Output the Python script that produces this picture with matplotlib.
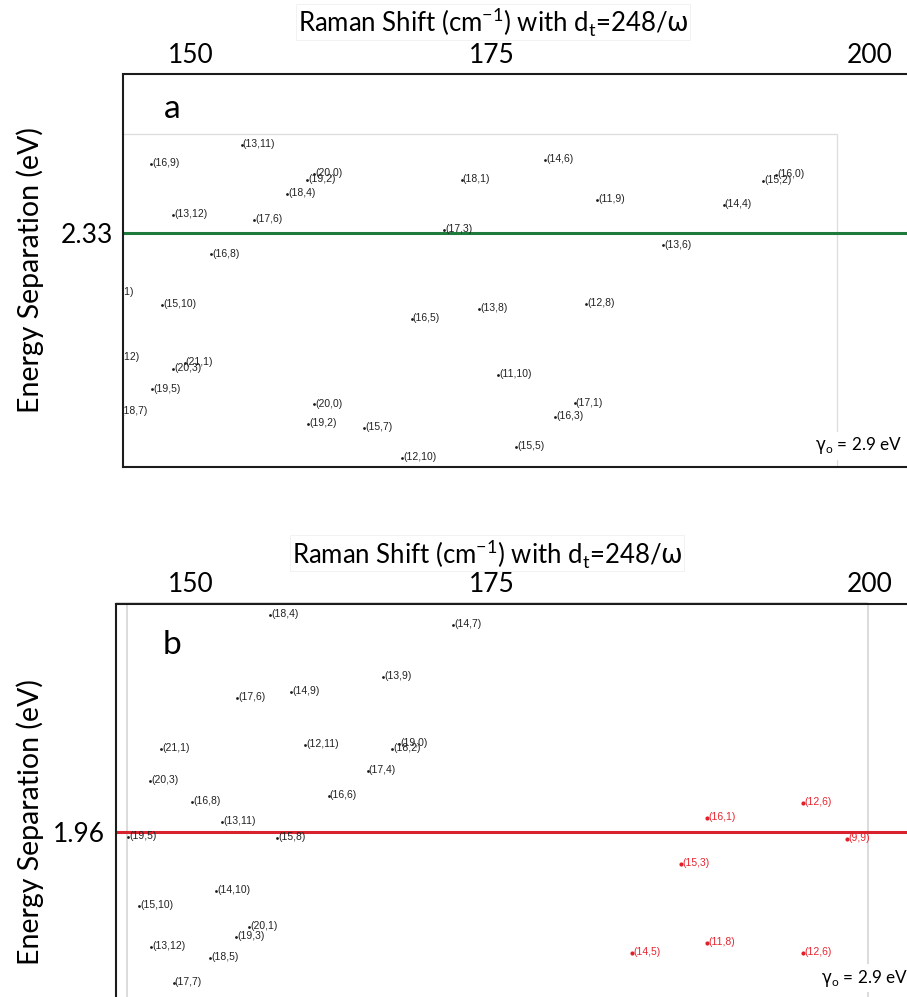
import matplotlib
matplotlib.use("Agg")
import matplotlib.pyplot as plt

plt.rcParams["mathtext.fontset"] = "dejavusans"

W, H, DPI = 907, 997, 100
OUTER_FONT = ["Lato", "DejaVu Sans"]
LABEL_FONT = ["Liberation Sans", "DejaVu Sans"]

# ---------------- data ----------------
# panel a: 2.33 eV excitation
a_names = ["(13,11)", "(16,9)", "(19,2)", "(20,0)", "(18,4)", "(13,12)", "(17,6)", "(17,3)",
           "(16,8)", "(14,6)", "(18,1)", "(11,9)", "(14,4)", "(15,2)", "(16,0)", "(13,6)",
           "(22,1)", "(15,10)", "(16,5)", "(14,12)", "(21,1)", "(20,3)", "(19,5)", "(20,0)",
           "(18,7)", "(19,2)", "(15,7)", "(12,10)", "(13,8)", "(12,8)", "(11,10)", "(17,1)",
           "(16,3)", "(15,5)"]
a_raman = [152.1, 144.3, 157.7, 158.3, 156.0, 146.2, 153.2, 169.5,
           149.5, 178.2, 171.0, 182.6, 193.5, 196.9, 198.0, 188.3,
           140.4, 145.3, 166.7, 140.4, 147.2, 146.2, 144.4, 158.3,
           141.6, 157.8, 162.6, 165.9, 172.5, 181.7, 174.1, 180.7,
           179.0, 175.7]
a_energy = [2.419, 2.400, 2.384, 2.390, 2.370, 2.349, 2.344, 2.334,
            2.309, 2.404, 2.384, 2.364, 2.359, 2.383, 2.389, 2.318,
            2.270, 2.258, 2.244, 2.205, 2.200, 2.194, 2.173, 2.158,
            2.151, 2.138, 2.134, 2.104, 2.254, 2.259, 2.188, 2.159,
            2.145, 2.115]
a_laser = 2.33

# panel b: 1.96 eV excitation
b_names = ["(18,4)", "(14,7)", "(13,9)", "(17,6)", "(14,9)", "(21,1)", "(12,11)", "(18,2)",
           "(19,0)", "(17,4)", "(20,3)", "(16,8)", "(16,6)", "(13,11)", "(19,5)", "(15,8)",
           "(14,10)", "(15,10)", "(20,1)", "(19,3)", "(13,12)", "(18,5)", "(17,7)"]
b_raman = [156.0, 171.0, 165.3, 153.3, 157.7, 147.1, 158.9, 166.0,
           166.6, 164.0, 146.2, 149.6, 160.8, 152.1, 144.4, 156.6,
           151.6, 145.3, 154.3, 153.2, 146.25, 151.1, 148.1]
b_energy = [2.177, 2.167, 2.115, 2.094, 2.100, 2.043, 2.047, 2.043,
            2.048, 2.021, 2.011, 1.990, 1.996, 1.970, 1.955, 1.954,
            1.901, 1.886, 1.865, 1.855, 1.845, 1.834, 1.809]
b_red_names = ["(12,6)", "(16,1)", "(9,9)", "(15,3)", "(11,8)", "(14,5)", "(12,6)"]
b_red_raman = [199.7, 191.8, 203.3, 189.7, 191.8, 185.7, 199.7]
b_red_energy = [1.989, 1.974, 1.953, 1.928, 1.849, 1.839, 1.839]
b_laser = 1.96

gamma0 = 2.9
top_tick_labels = ["150", "175", "200"]
xlabel_top = r"Raman Shift (cm$^{\mathregular{-1}}$) with d$_{\mathregular{t}}$=248/$\mathrm{\omega}$"
ylabel = "Energy Separation (eV)"

# ---------------- layout (pixels) ----------------
TOP_TICK_PX = [191, 492, 870]

fig = plt.figure(figsize=(W / DPI, H / DPI), dpi=DPI)


def fig_rect(l, t, r, b):
    return [l / W, 1 - b / H, (r - l) / W, (b - t) / H]


def to_axes(box, x, y):
    l, t, r, b = box
    return (x - l) / (r - l), (b - y) / (b - t)


def frame_line(ax, box, p0, p1, **kw):
    x0, y0 = to_axes(box, *p0)
    x1, y1 = to_axes(box, *p1)
    ax.plot([x0, x1], [y0, y1], transform=ax.transAxes, clip_on=False,
            solid_capstyle="butt", zorder=1, **kw)


def label_points(ax, names, xs, ys, dot_color, text_color, ms):
    ax.plot(xs, ys, ls="none", marker="o", ms=ms, color=dot_color, mew=0, zorder=3)
    for n, x, y in zip(names, xs, ys):
        ax.annotate(n, (x, y), xytext=(0.9, 0.6), textcoords="offset points",
                    fontsize=7.5, family=LABEL_FONT, color=text_color,
                    ha="left", va="center", clip_on=True, annotation_clip=False,
                    zorder=3)


def panel(box, xlim, ylim, laser, laser_color, ytick_pad, letter, letter_y,
          title_xy, ylabel_y, gamma_xy, inner_lines, inner_kw):
    l, t, r, b = box
    ax = fig.add_axes(fig_rect(*box))
    ax.set_xlim(xlim)
    ax.set_ylim(ylim)
    ax.set_xticks([])
    ax.set_yticks([laser], labels=[f"{laser:.2f}"])
    ax.tick_params(axis="y", length=0, pad=ytick_pad, labelsize=19,
                   labelfontfamily="Lato")
    for s in ax.spines.values():
        s.set_linewidth(1.5)
        s.set_color("#1c1c1c")

    # light frame of the embedded Kataura plot
    for p0, p1 in inner_lines:
        frame_line(ax, box, p0, p1, **inner_kw)

    ax.axhline(laser, color=laser_color, lw=2.2, zorder=2)

    # top Raman-shift scale
    top = ax.twiny()
    top.set_xlim(l, r)
    top.set_xticks(TOP_TICK_PX, labels=top_tick_labels)
    top.tick_params(axis="x", length=0, pad=5, labelsize=19, labelfontfamily="Lato")
    for s in top.spines.values():
        s.set_visible(False)

    ax.text(*to_axes(box, 172, letter_y), letter, transform=ax.transAxes,
            ha="center", va="center", fontsize=24, family=OUTER_FONT)
    ax.text(*to_axes(box, *gamma_xy), r"$\mathrm{\gamma}_{\mathregular{o}}$ = %.1f eV" % gamma0,
            transform=ax.transAxes, ha="left", va="center", fontsize=12.3,
            family=OUTER_FONT, zorder=6,
            bbox=dict(fc="white", ec="none", pad=2.5))

    fig.text(title_xy[0] / W, 1 - title_xy[1] / H, xlabel_top, ha="center", va="center",
             fontsize=18.5, family=OUTER_FONT, zorder=0,
             bbox=dict(fc="white", ec="#f0f0f0", lw=0.6, pad=1.0))
    fig.text(30 / W, 1 - ylabel_y / H, ylabel, rotation=90, ha="center", va="center",
             fontsize=20.5, family=OUTER_FONT)
    return ax


# ---------------- panel a ----------------
box_a = (123, 74.5, 930, 467)
ax_a = panel(box_a, (141.91, 211.24), (2.095, 2.49), a_laser, "#1f7a3e", 7,
             "a", 109, (493, 22), 270, (815, 446),
             [((123, 134), (836.7, 134)), ((836.7, 134), (836.7, 467))],
             dict(color="#dcdcdc", lw=0.9))
label_points(ax_a, a_names, a_raman, a_energy, "#1a1a1a", "#222222", 2.0)

# ---------------- panel b ----------------
box_b = (116, 604, 930, 1012)
ax_b = panel(box_b, (143.38, 210.1), (1.780, 2.188), b_laser, "#d8232f", 8,
             "b", 645, (487, 553), 822, (821, 978),
             [((126.7, 603), (126.7, 1012)), ((868, 603), (868, 1012)),
              ((116, 603), (868, 603))],
             dict(color="#d6d6d6", lw=1.2))
label_points(ax_b, b_names, b_raman, b_energy, "#1a1a1a", "#222222", 2.0)
label_points(ax_b, b_red_names, b_red_raman, b_red_energy, "#e0202a", "#e8242e", 3.0)

fig.savefig("out.png", dpi=DPI)
